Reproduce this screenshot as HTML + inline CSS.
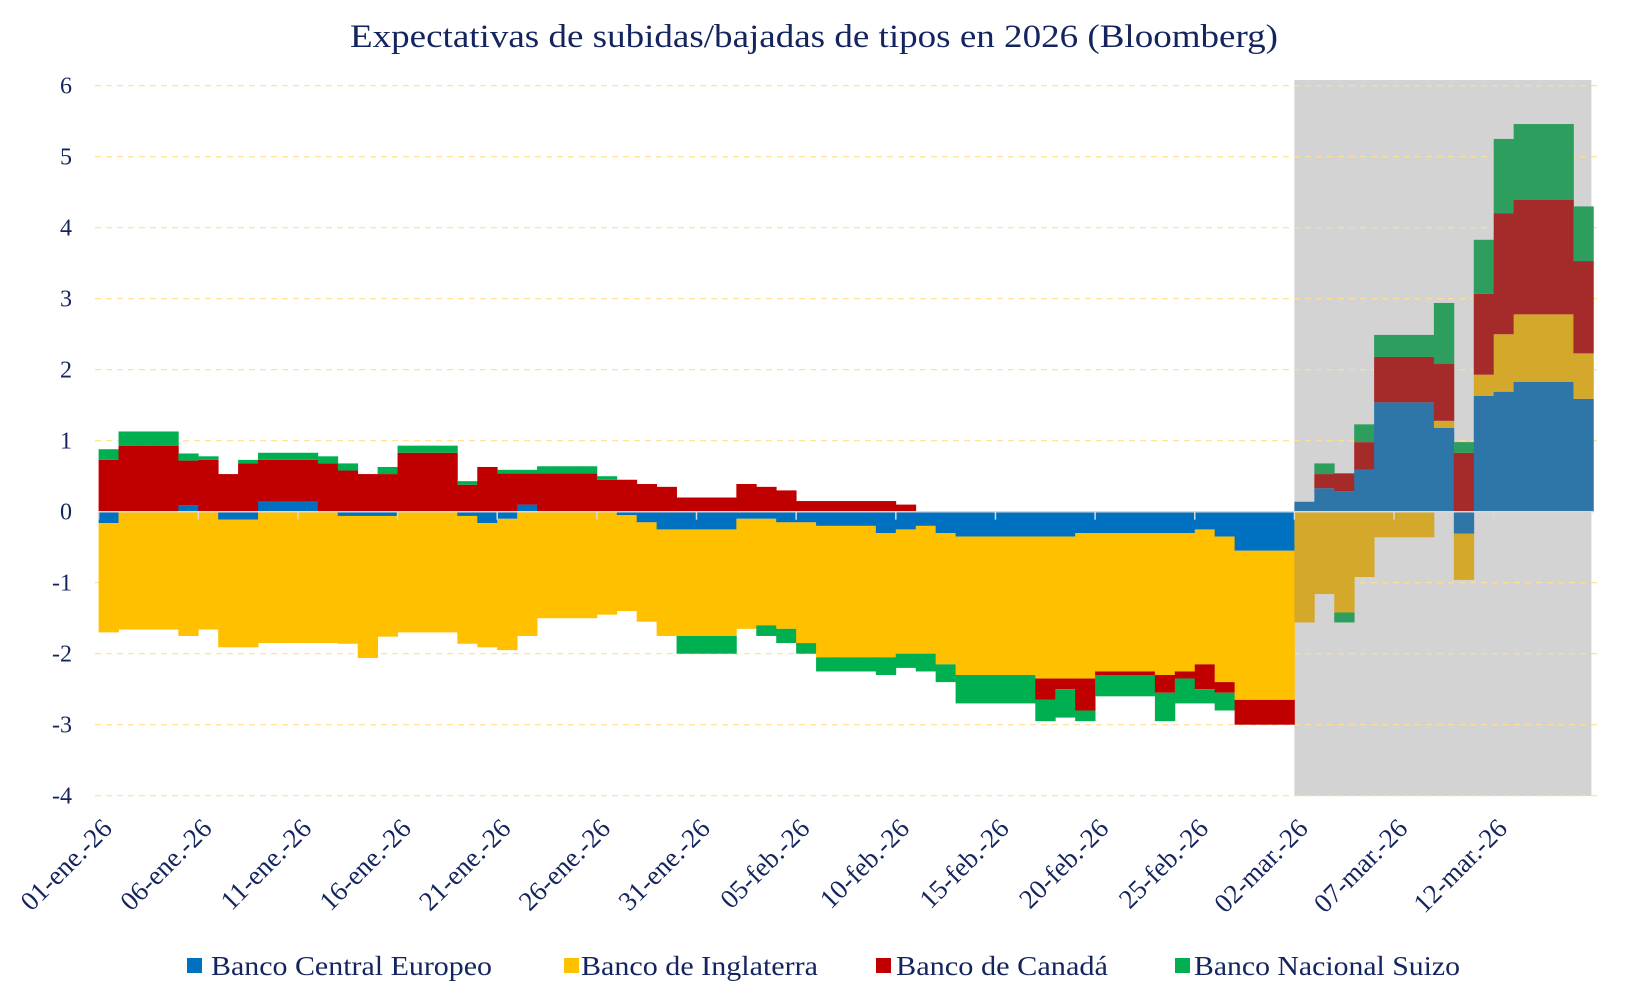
<!DOCTYPE html>
<html><head><meta charset="utf-8"><style>
html,body{margin:0;padding:0;background:#fff;}
svg{display:block;font-family:"Liberation Serif",serif;}
</style></head><body>
<svg id="chart" width="1631" height="1000" viewBox="0 0 1631 1000" xmlns="http://www.w3.org/2000/svg">
<text x="350" y="47" font-size="33" fill="#14245e" textLength="928" lengthAdjust="spacingAndGlyphs">Expectativas de subidas/bajadas de tipos en 2026 (Bloomberg)</text>
<rect x="1294.4" y="80" width="297" height="716" fill="#d3d3d3"/>
<g id="grid"></g>
<g id="bars"></g>
<g id="axis"></g>
<g id="ylab"></g>
<g id="xlab"></g>
<g font-size="27" fill="#14245e">
<rect x="187" y="958" width="15" height="15" fill="#0070C0"/>
<text x="211" y="975" textLength="281" lengthAdjust="spacingAndGlyphs">Banco Central Europeo</text>
<rect x="564" y="958" width="15" height="15" fill="#FFC000"/>
<text x="581" y="975" textLength="237" lengthAdjust="spacingAndGlyphs">Banco de Inglaterra</text>
<rect x="876" y="958" width="15" height="15" fill="#C00000"/>
<text x="896" y="975" textLength="212" lengthAdjust="spacingAndGlyphs">Banco de Canadá</text>
<rect x="1175" y="958" width="15" height="15" fill="#00B050"/>
<text x="1194" y="975" textLength="266" lengthAdjust="spacingAndGlyphs">Banco Nacional Suizo</text>
</g>
</svg>
<script>
const ecb = [-.16,0,0,0,.09,0,-.11,-.11,.14,.14,.14,0,-.06,-.06,-.06,0,0,0,-.06,-.16,-.1,.1,0,0,0,0,-.05,-.15,-.25,-.25,-.25,-.25,-.1,-.1,-.15,-.15,-.2,-.2,-.2,-.3,-.25,-.2,-.3,-.35,-.35,-.35,-.35,-.35,-.35,-.3,-.3,-.3,-.3,-.3,-.3,-.25,-.35,-.55,-.55,-.55,.14,.33,.29,.59,1.54,1.54,1.54,1.18,-.31,1.63,1.69,1.83,1.83,1.83,1.59];
const boe = [-1.54,-1.66,-1.66,-1.66,-1.75,-1.66,-1.8,-1.8,-1.85,-1.85,-1.85,-1.85,-1.8,-2.0,-1.7,-1.7,-1.7,-1.7,-1.8,-1.75,-1.85,-1.75,-1.5,-1.5,-1.5,-1.45,-1.35,-1.4,-1.5,-1.5,-1.5,-1.5,-1.55,-1.5,-1.5,-1.7,-1.85,-1.85,-1.85,-1.75,-1.75,-1.8,-1.85,-1.95,-1.95,-1.95,-1.95,-2.0,-2.0,-2.05,-1.95,-1.95,-1.95,-2.0,-1.95,-1.9,-2.05,-2.1,-2.1,-2.1,-1.56,-1.16,-1.42,-.92,-.36,-.36,-.36,.1,-.65,.3,.81,.95,.95,.95,.64];
const boc = [.73,.93,.93,.93,.63,.73,.53,.68,.59,.59,.59,.68,.58,.53,.53,.83,.83,.83,.38,.63,.54,.44,.54,.54,.54,.45,.45,.39,.35,.2,.2,.2,.39,.35,.3,.15,.15,.15,.15,.15,.1,0,0,0,0,0,0,-.3,-.15,-.45,-.05,-.05,-.05,-.25,-.1,-.35,-.15,-.35,-.35,-.35,0,.2,.25,.39,.64,.64,.64,.8,.83,1.14,1.7,1.61,1.61,1.61,1.3];
const snb = [.15,.2,.2,.2,.1,.05,0,.05,.1,.1,.1,.1,.1,0,.1,.1,.1,.1,.05,0,.05,.05,.1,.1,.1,.05,0,0,0,-.25,-.25,-.25,0,-.15,-.2,-.15,-.2,-.2,-.2,-.25,-.2,-.25,-.25,-.4,-.4,-.4,-.4,-.3,-.4,-.15,-.3,-.3,-.3,-.4,-.35,-.2,-.25,0,0,0,0,.15,-.14,.25,.31,.31,.31,.86,.15,.76,1.05,1.07,1.07,1.07,.77];
const yTicks = [6,5,4,3,2,1,0,-1,-2,-3,-4];
const xTickLabels = ["01-ene.-26","06-ene.-26","11-ene.-26","16-ene.-26","21-ene.-26","26-ene.-26","31-ene.-26","05-feb.-26","10-feb.-26","15-feb.-26","20-feb.-26","25-feb.-26","02-mar.-26","07-mar.-26","12-mar.-26"];

const NS="http://www.w3.org/2000/svg";
const X0=98.6, DW=19.93, Y0=511.7, U=71;
const xs=i=>X0+DW*i;
const ys=v=>Y0-U*v;
const normal=["#0070C0","#FFC000","#C00000","#00B050"];
const muted=["#2E75A8","#D4A82A","#A52A2A","#2E9E5E"];
const names=["ecb","boe","boc","snb"];
const series=[ecb,boe,boc,snb];
function mk(tag,attrs,parent){const e=document.createElementNS(NS,tag);for(const k in attrs)e.setAttribute(k,attrs[k]);parent.appendChild(e);return e;}

const grid=document.getElementById('grid');
yTicks.forEach(t=>{ if(t===0) return;
  const l=mk('line',{x1:95,x2:1597,y1:ys(t),y2:ys(t),stroke:'#FFE08A','stroke-width':1.2,'stroke-dasharray':'6,5'},grid);
  
  
});
const bars=document.getElementById('bars');
for(let i=0;i<ecb.length;i++){
  let pos=0,neg=0;
  const pal=i>=60?muted:normal;
  series.forEach((s,k)=>{
    const v=s[i]; if(!v) return;
    let y1,y2;
    if(v>0){y1=pos;y2=pos+v;pos=y2;} else {y1=neg;y2=neg+v;neg=y2;}
    const r=mk('rect',{x:xs(i),width:DW+0.4,y:Math.min(ys(y1),ys(y2)),height:Math.abs(ys(y1)-ys(y2)),fill:pal[k]},bars);
    
    
  });
}
const axis=document.getElementById('axis');
const al=mk('line',{x1:xs(0),x2:xs(ecb.length),y1:Y0,y2:Y0,stroke:'#d9d9d9','stroke-width':1.5},axis);


const ylab=document.getElementById('ylab');
yTicks.forEach(t=>{
  const tx=mk('text',{x:72,y:ys(t)+8,'text-anchor':'end','font-size':24,fill:'#14245e'},ylab);
  tx.textContent=String(t);
  
  
});
const xlab=document.getElementById('xlab');
xTickLabels.forEach((lab,j)=>{
  const x=xs(j*5);
  const tk=mk('line',{x1:x,x2:x,y1:Y0,y2:Y0+8,stroke:'#d9d9d9','stroke-width':1.5},axis);
  
  
  const tx=mk('text',{x:0,y:0,'text-anchor':'end','font-size':27,fill:'#14245e',transform:'translate('+(x+15)+',830) rotate(-45)'},xlab);
  tx.textContent=lab;
  
  
});
</script>
</body></html>
